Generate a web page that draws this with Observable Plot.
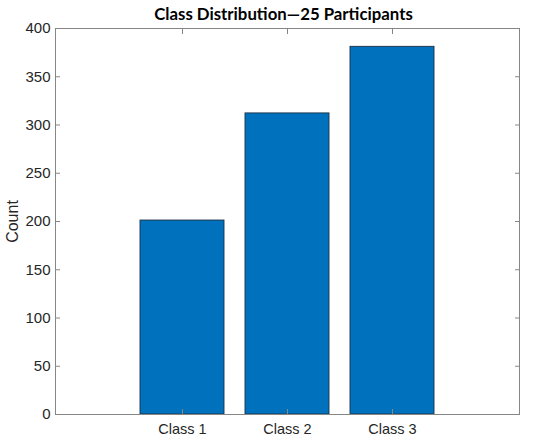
<!DOCTYPE html>
<html>
<head>
  <!-- load d3 then plot -->
  <script src="https://cdn.jsdelivr.net/npm/d3@7"></script>
  <script src="https://cdn.jsdelivr.net/npm/@observablehq/plot@0.6"></script>
  <style>
    body { margin: 0; background: #fff; }
  </style>
</head>
<body>
  <div id="chart"></div>
  <script>
    // values
    const classes = ["Class 1", "Class 2", "Class 3"];
    const counts = [201, 312, 381];
    const yTicks = [0, 50, 100, 150, 200, 250, 300, 350, 400];
    const title = "Class Distribution\u201425 Participants";

    const data = classes.map((c, i) => ({cls: c, count: counts[i]}));
    const axisColor = "#868686";

    const chart = Plot.plot({
      width: 550,
      height: 442,
      marginTop: 28,
      marginBottom: 28,
      marginLeft: 55,
      marginRight: 31,
      style: {fontFamily: "'Liberation Sans', Arial, sans-serif", color: "#262626"},
      x: {domain: classes, paddingInner: 0.2, paddingOuter: 0.79, label: null},
      y: {domain: [0, 400], label: null},
      marks: [
        Plot.barY(data, {x: "cls", y: "count", fill: "#0072BD", stroke: "#1c2f45", strokeWidth: 0.9}),
        Plot.frame({stroke: axisColor}),
        // labels, then inward ticks on all four sides (matlab style)
        Plot.axisY(yTicks, {anchor: "left", tickSize: 0, tickPadding: 5, fontSize: 15, label: null}),
        Plot.axisY(yTicks, {anchor: "left", tickSize: -5, text: null, stroke: axisColor, label: "Count", labelAnchor: "center", labelArrow: "none", labelOffset: 49, fontSize: 16}),
        Plot.axisY(yTicks, {anchor: "right", tickSize: -5, text: null, stroke: axisColor, label: null}),
        Plot.axisX({anchor: "bottom", tickSize: 0, tickPadding: 9, fontSize: 14.5, label: null}),
        Plot.axisX({anchor: "bottom", tickSize: -5, text: null, stroke: axisColor, label: null}),
        Plot.axisX({anchor: "top", tickSize: -5, text: null, stroke: axisColor, label: null}),
        Plot.text([title], {frameAnchor: "top", dy: -20, dx: -4, fontWeight: "bold", fontSize: 16.8, fontFamily: "Lato, 'Open Sans', sans-serif", fill: "#000"})
      ]
    });

    document.getElementById("chart").appendChild(chart);
  </script>
</body>
</html>
